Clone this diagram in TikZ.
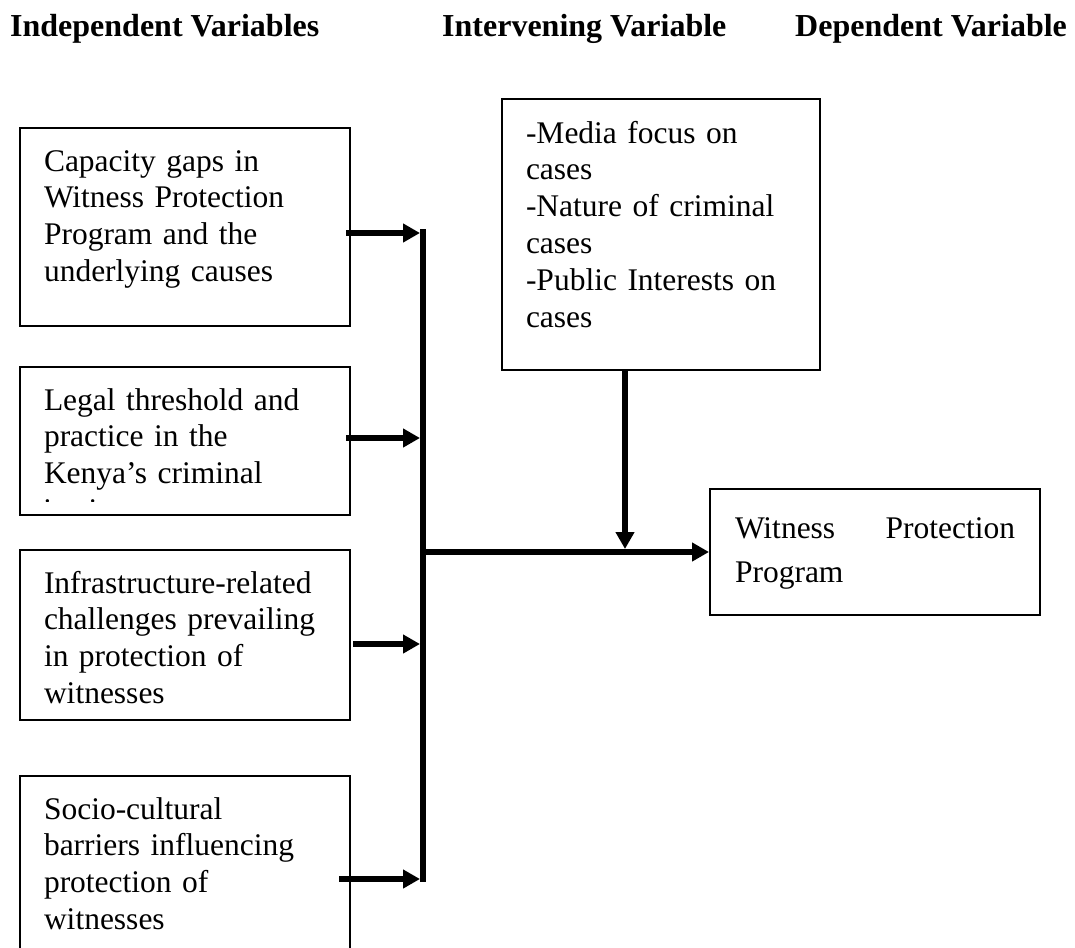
\documentclass[tikz,border=0pt]{standalone}
\usepackage{fontspec}
\setmainfont{Liberation Serif}
\usetikzlibrary{arrows.meta, positioning, calc}

\begin{document}
\begin{tikzpicture}[x=1pt, y=-1pt,
      every node/.style={font=\fontsize{31.5}{36.8}\selectfont},
      box/.style={draw, line width=2pt, anchor=north west, align=left,
        inner xsep=24pt, inner ysep=0pt, text width=282pt, text height=43pt},
      head/.style={anchor=base west, inner sep=0pt, font=\fontsize{32}{36.8}\selectfont\bfseries},
      feed/.style={line width=5.5pt, -{Triangle[length=17pt, width=18pt]}},
      bus/.style={line width=6pt}]
    \useasboundingbox (0,0) rectangle (1075,947);
    \clip (0,0) rectangle (1075,947);
    % column titles
    \node[head] (tIndep) at (10,37)  {Independent Variables};
    \node[head] (tInter) at (442,37) {Intervening Variable};
    \node[head] (tDep)   at (795,37) {Dependent Variable};
    % independent variables
    \node[box, text depth=155pt] (capacity) at (19,127)
      {Capacity gaps in\\Witness Protection\\Program and the\\underlying causes};
    \node[box, text depth=105pt] (legal) at (19,366)
      {Legal threshold and\\practice in the\\Kenya’s criminal};
    \begin{scope}
      \clip (19,366) rectangle (349,501);
      \node[anchor=base west, inner sep=0pt] (legalcut) at ($(legal.north west)+(24,154)$) {justice};
    \end{scope}
    \node[box, text depth=127pt] (infra) at (19,549)
      {Infrastructure-related\\challenges prevailing\\in protection of\\witnesses};
    \node[box, text depth=200pt] (socio) at (19,775)
      {Socio-cultural\\barriers influencing\\protection of\\witnesses};
    % intervening + dependent
    \node[box, text width=270pt, text height=44pt, text depth=227pt] (media) at (501,98)
      {-Media focus on\\cases\\-Nature of criminal\\cases\\-Public Interests on\\cases};
    \node[box, inner xsep=25pt, text width=280pt, text height=49pt, text depth=77pt,
      font=\fontsize{31.5}{44}\selectfont] (wpp) at (709,488)
      {Witness\hfill Protection\\Program};
    % connectors
    \coordinate (busN) at (423,229);
    \coordinate (busS) at (423,882);
    \draw[bus] (busN) -- (busS);
    \draw[feed] ($(capacity.east)+(-5,6)$) -- ($(busN |- capacity.east)+(-3,6)$);
    \draw[feed] ($(legal.east)+(-5,-3)$) -- ($(busN |- legal.east)+(-3,-3)$);
    \draw[feed] ($(infra.east)+(2,9)$) -- ($(busN |- infra.east)+(-3,9)$);
    \draw[feed] ($(socio.north east)+(-12,104)$) -- ($(busN |- socio.north east)+(-3,104)$);
    \draw[feed] (busN |- wpp.west) -- (wpp.west);
    \coordinate (drop) at ($(media.south)+(-36,0)$);
    \draw[feed] (drop) -- ($(drop |- wpp.west)+(0,-3)$);
\end{tikzpicture}
\end{document}
